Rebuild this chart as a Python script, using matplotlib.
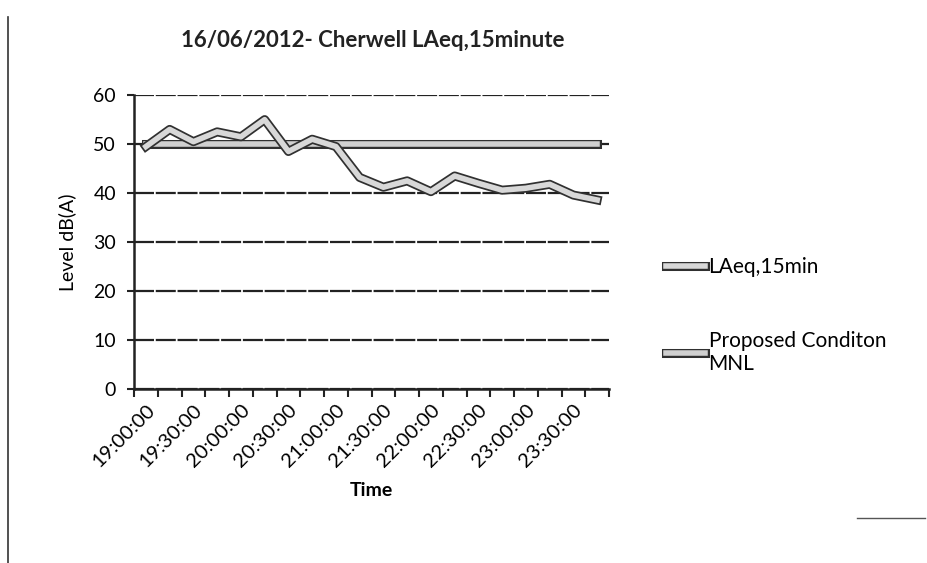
import matplotlib.pyplot as plt
import matplotlib.patheffects as pe
from matplotlib.lines import Line2D
import numpy as np

plt.rcParams['font.family'] = ['Lato', 'DejaVu Sans']

times = ["19:00:00", "19:15:00", "19:30:00", "19:45:00", "20:00:00", "20:15:00",
         "20:30:00", "20:45:00", "21:00:00", "21:15:00", "21:30:00", "21:45:00",
         "22:00:00", "22:15:00", "22:30:00", "22:45:00", "23:00:00", "23:15:00",
         "23:30:00", "23:45:00"]
laeq = [49.5, 53, 50.5, 52.5, 51.5, 55, 48.5, 51, 49.5, 43.2, 41.2, 42.5,
        40.3, 43.5, 42, 40.6, 41, 41.8, 39.6, 38.6]
mnl = [50] * len(times)
yticks = [0, 10, 20, 30, 40, 50, 60]

fig = plt.figure(figsize=(9.27, 5.63), dpi=100)
ax = fig.add_axes([0.1446, 0.309, 0.5124, 0.522])

x = np.arange(len(times))
outline = [pe.Stroke(linewidth=6.5, foreground="#303030"), pe.Normal()]
ax.plot(x, laeq, color="#d8d8d8", lw=4, path_effects=outline,
        solid_joinstyle="round", label="LAeq,15min", zorder=4)
ax.plot(x, mnl, color="#d0d0d0", lw=4, path_effects=outline,
        label="Proposed Conditon\nMNL", zorder=3)

ax.set_xlim(-0.5, len(times) - 0.5)
ax.set_ylim(0, 60)
ax.set_yticks(yticks)
ax.set_yticklabels([str(v) for v in yticks], fontsize=14)
ax.yaxis.grid(True, color="#222222", lw=1.6, linestyle=(0, (9, 0.8)))
ax.set_axisbelow(True)

ax.set_xticks(x[::2])
ax.set_xticklabels(times[::2], rotation=45, ha="right", rotation_mode="anchor",
                   fontsize=14.5)
ax.tick_params(axis="x", which="major", length=0, pad=9)
ax.set_xticks(np.arange(-0.5, len(times), 1), minor=True)
ax.tick_params(axis="x", which="minor", length=6, width=1.5, color="#222222")
ax.tick_params(axis="y", length=5, width=1.5, color="#222222", pad=8)

for side in ["top", "right"]:
    ax.spines[side].set_visible(False)
for side in ["left", "bottom"]:
    ax.spines[side].set_color("#222222")
    ax.spines[side].set_linewidth(1.8)

ax.set_xlabel("Time", fontsize=14, fontweight="bold", labelpad=8)
ax.set_ylabel("Level dB(A)", fontsize=14, labelpad=12)
fig.text(0.402, 0.928, "16/06/2012- Cherwell LAeq,15minute", ha="center",
         va="center", fontsize=16, fontweight="bold", color="#222222")

leg = fig.legend(loc="upper left", bbox_to_anchor=(0.698, 0.577), frameon=False,
                 fontsize=15, handlelength=1.9, handletextpad=0.15,
                 labelspacing=2.6)

# scanned page border marks
fig.add_artist(Line2D([0.009, 0.009], [0.0, 0.97], color="#333333", lw=1.2))
fig.add_artist(Line2D([0.925, 0.998], [0.08, 0.08], color="#555555", lw=1.0))

fig.savefig("out.png", dpi=100)
